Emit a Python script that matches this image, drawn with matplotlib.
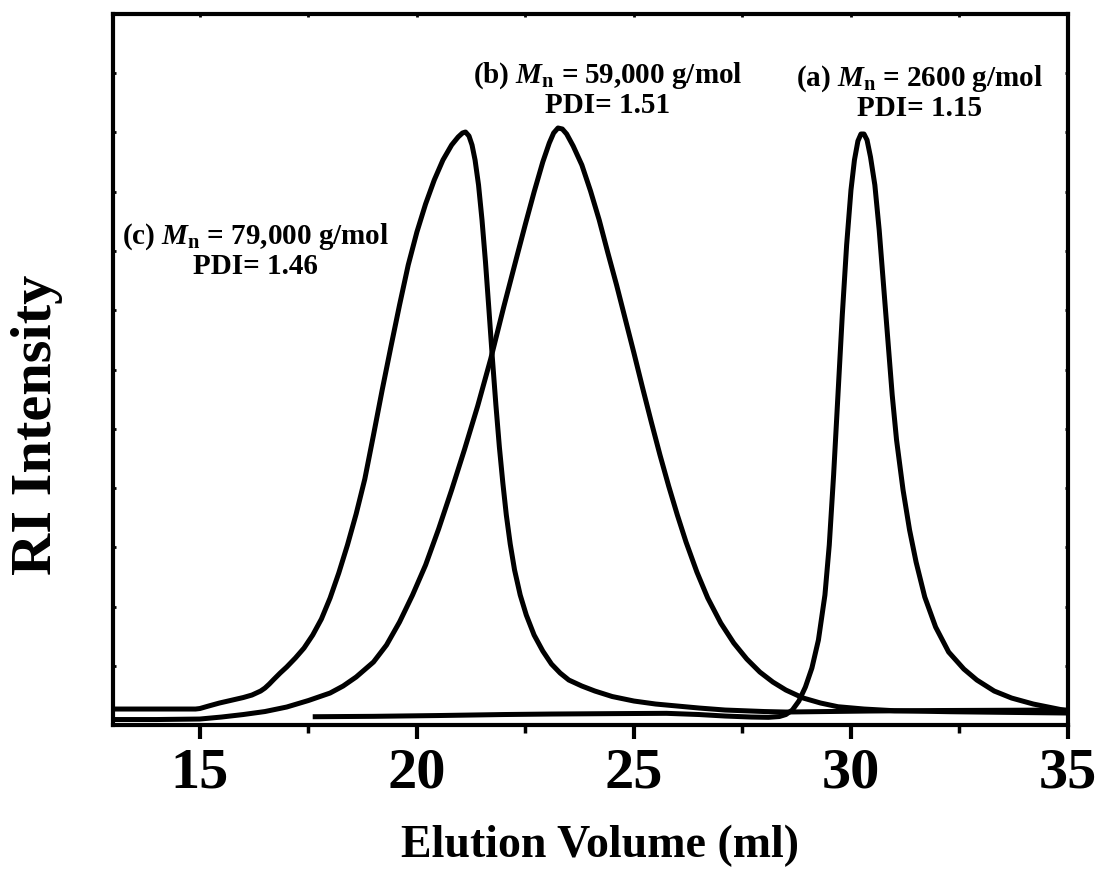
import numpy as np
import matplotlib
matplotlib.use("Agg")
import matplotlib.pyplot as plt
from matplotlib.ticker import MultipleLocator

plt.rcParams['font.family'] = ['Liberation Serif', 'DejaVu Serif']
plt.rcParams['font.weight'] = 'bold'
plt.rcParams['mathtext.fontset'] = 'custom'
plt.rcParams['mathtext.rm'] = 'Liberation Serif:bold'
plt.rcParams['mathtext.it'] = 'Liberation Serif:italic:bold'
plt.rcParams['mathtext.bf'] = 'Liberation Serif:bold'

# Curve (c) Mn = 79,000 g/mol
x_c = [13.0, 14.9, 15.0, 15.2, 15.45, 15.7, 16.0, 16.2, 16.4, 16.5, 16.6, 16.7, 16.85, 17.0,
       17.2, 17.4, 17.6, 17.8, 18.0, 18.2, 18.4, 18.6, 18.8, 19.0, 19.2, 19.4, 19.6, 19.8,
       20.0, 20.2, 20.4, 20.6, 20.8, 20.95, 21.05, 21.12, 21.2, 21.27, 21.34, 21.42, 21.5,
       21.58, 21.66, 21.74, 21.82, 21.9, 21.98, 22.06, 22.15, 22.25, 22.38, 22.52, 22.7,
       22.9, 23.1, 23.3, 23.5, 23.8, 24.1, 24.5, 25.0, 25.5, 26.0, 26.5, 27.1, 28.0, 28.5,
       30.4, 32.0, 35.0]
y_c = [16, 16, 16.5, 19, 22, 24.5, 27.5, 30, 34, 37, 41, 45.5, 52, 58,
       67, 77, 90, 106, 127, 152, 180, 211, 246, 290, 335, 378, 420, 460,
       493, 521, 545, 565, 580, 588, 592, 593, 589, 580, 565, 540, 505,
       463, 415, 366, 320, 278, 242, 210, 181, 155, 130, 110, 90,
       74, 61, 52, 45, 39, 34, 28.5, 24, 21, 19, 17, 15, 13.5, 13,
       14, 14.5, 15]

# Curve (b) Mn = 59,000 g/mol
x_b = [13.0, 14.0, 15.0, 15.5, 16.0, 16.5, 17.0, 17.5, 18.0, 18.3, 18.6, 19.0, 19.3, 19.6,
       19.9, 20.2, 20.5, 20.8, 21.1, 21.4, 21.7, 22.0, 22.3, 22.5, 22.7, 22.9, 23.05, 23.15,
       23.25, 23.35, 23.45, 23.6, 23.8, 24.0, 24.2, 24.4, 24.6, 24.8, 25.0, 25.2, 25.4, 25.6,
       25.8, 26.0, 26.2, 26.45, 26.7, 27.0, 27.3, 27.6, 27.9, 28.2, 28.5, 28.9, 29.3, 29.7,
       30.3, 31.0, 32.3, 33.5, 35.0]
y_b = [5.5, 5.5, 6, 8, 10.5, 13.5, 18, 24.5, 32, 39, 48, 63, 80, 103,
       130, 160, 196, 235, 276, 319, 366, 418, 468, 501, 533, 563, 582, 592,
       597, 596, 591, 579, 560, 534, 505, 472, 440, 406, 372, 337, 303, 270,
       239, 210, 183, 153, 127, 102, 82, 66, 53, 43, 35, 27, 22, 18.3,
       16, 14.3, 13.3, 12.7, 12]

# Curve (a) Mn = 2600 g/mol
x_a = [17.6, 19.0, 20.5, 22.0, 23.1, 24.5, 25.75, 26.5, 27.1, 27.7, 28.1, 28.35, 28.5,
       28.65, 28.8, 28.95, 29.1, 29.25, 29.4, 29.5, 29.6, 29.7, 29.8, 29.9, 30.0, 30.08,
       30.16, 30.23, 30.3, 30.37, 30.45, 30.55, 30.65, 30.75, 30.85, 30.95, 31.05, 31.2,
       31.35, 31.5, 31.7, 31.95, 32.25, 32.6, 32.9, 33.3, 33.7, 34.2, 34.6, 35.0]
y_a = [8.3, 8.7, 9.5, 10.5, 11, 11.4, 11.7, 10.5, 9, 8, 7.7, 8.5, 10.5,
       15, 24, 38, 57, 85, 130, 180, 250, 330, 410, 480, 535, 565,
       584, 591, 591, 585, 568, 540, 495, 440, 385, 330, 285, 235,
       195, 163, 128, 98, 73, 56, 45, 34, 27, 21, 17.5, 14]

x_ticks = [15, 20, 25, 30, 35]

fig = plt.figure(figsize=(11.04, 8.8), dpi=100)
ax = fig.add_axes([0.1024, 0.1761, 0.8650, 0.8080])

lw = 3.6
for xs, ys in [(x_c, y_c), (x_b, y_b), (x_a, y_a)]:
    ax.plot(xs, ys, color='black', lw=lw, solid_joinstyle='round', solid_capstyle='butt')

ax.set_xlim(13, 35)
ax.set_ylim(0, 711)

for s in ax.spines.values():
    s.set_linewidth(3.0)

ax.set_xticks(x_ticks)
ax.xaxis.set_minor_locator(MultipleLocator(2.5))
ax.yaxis.set_major_locator(MultipleLocator(711 / 12))
ax.tick_params(axis='x', which='major', direction='out', length=10, width=3,
               labelsize=42, pad=6, top=False)
ax.tick_params(axis='x', which='minor', direction='out', length=6, width=2.5, top=False)
ax.tick_params(axis='y', which='major', direction='in', length=2.5, width=2,
               left=True, right=True, labelleft=False)
for lab in ax.get_xticklabels():
    lab.set_fontweight('bold')

# tiny inward top marks
sec = ax.secondary_xaxis('top')
sec.set_xticks([15, 17.5, 20, 22.5, 25, 27.5, 30, 32.5, 35])
sec.tick_params(direction='in', length=2.5, width=2, labeltop=False)
sec.spines['top'].set_visible(False)

ax.set_xlabel('Elution Volume (ml)', fontsize=33, fontweight='bold')
ax.xaxis.set_label_coords(0.51, -0.14)
ax.set_ylabel('RI Intensity', fontsize=42, fontweight='bold')
ax.yaxis.set_label_coords(-0.052, 0.422)

ann_fs = 21
ax.text(24.40, 635, '(b) $M_{\\mathrm{n}}$ = 59,000 g/mol\nPDI= 1.51', ha='center', va='center',
        multialignment='center', fontsize=ann_fs, fontweight='bold', linespacing=1.05)
ax.text(31.57, 632, '(a) $M_{\\mathrm{n}}$ = 2600 g/mol\nPDI= 1.15', ha='center', va='center',
        multialignment='center', fontsize=ann_fs, fontweight='bold', linespacing=1.05)
ax.text(16.29, 474, '(c) $M_{\\mathrm{n}}$ = 79,000 g/mol\nPDI= 1.46', ha='center', va='center',
        multialignment='center', fontsize=ann_fs, fontweight='bold', linespacing=1.05)

fig.savefig('out.png', dpi=100)
